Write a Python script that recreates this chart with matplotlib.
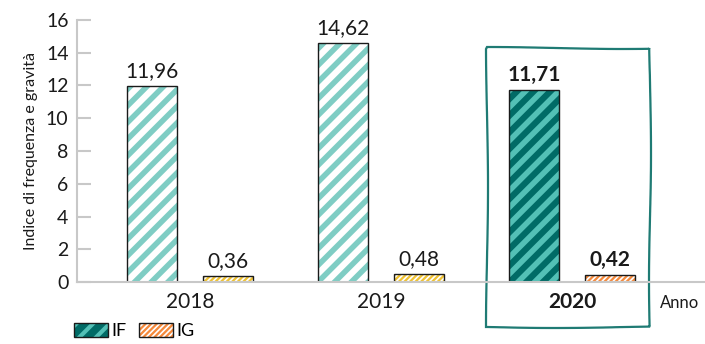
import matplotlib
matplotlib.use("Agg")
import matplotlib.pyplot as plt
from matplotlib.patches import Rectangle, Patch
from matplotlib.legend_handler import HandlerTuple

plt.rcParams['font.family'] = ['Lato', 'DejaVu Sans']

years = ["2018", "2019", "2020"]
if_values = [11.96, 14.62, 11.71]
ig_values = [0.36, 0.48, 0.42]
highlight = 2  # anno evidenziato

teal_light = "#7fcdc4"
teal_dark = "#006b66"
teal_stripe = "#53c0b6"
yellow = "#f0c232"
orange = "#f5893b"
grey = "#c8c8c8"
box_col = "#1f7b74"


def fmt(v):
    return ("%.2f" % v).replace(".", ",")


def hatched_bar(ax, x, h, w, face, stripe, hatch, hlw):
    with plt.rc_context({'hatch.linewidth': hlw}):
        b = ax.bar(x, h, w, color=face, edgecolor=stripe, linewidth=0, hatch=hatch)[0]
    try:
        b.set_hatch_linewidth(hlw)
    except AttributeError:
        pass
    ax.bar(x, h, w, fill=False, edgecolor="#1a1a1a", linewidth=1.0)
    return b


fig = plt.figure(figsize=(7.05, 3.44), dpi=100)
ax = fig.add_axes([0.109, 0.180, 0.891, 0.762])

w = 0.262
off = 0.199
for i in range(len(years)):
    bold = i == highlight
    if bold:
        hatched_bar(ax, i - off, if_values[i], w, teal_dark, teal_stripe, "//", 4.0)
        hatched_bar(ax, i + off, ig_values[i], w, orange, "white", "//////", 1.2)
    else:
        hatched_bar(ax, i - off, if_values[i], w, "white", teal_light, "//", 4.0)
        hatched_bar(ax, i + off, ig_values[i], w, yellow, "white", "//////", 1.2)
    fw = "bold" if bold else "normal"
    ax.text(i - off, if_values[i] + 0.3, fmt(if_values[i]), ha="center", va="bottom",
            fontsize=15, fontweight=fw, color="#1a1a1a")
    ax.text(i + off, ig_values[i] + 0.3, fmt(ig_values[i]), ha="center", va="bottom",
            fontsize=15, fontweight=fw, color="#1a1a1a")

ax.set_xlim(-0.592, 2.696)
ax.set_ylim(0, 16)
ax.set_yticks(range(0, 17, 2))
ax.set_xticks(range(len(years)))
ax.set_xticklabels(years)
for i, t in enumerate(ax.get_xticklabels()):
    if i == highlight:
        t.set_fontweight("bold")

for s in ["top", "right"]:
    ax.spines[s].set_visible(False)
ax.spines["left"].set_color(grey)
ax.spines["bottom"].set_color(grey)
ax.spines["left"].set_linewidth(1.5)
ax.spines["bottom"].set_linewidth(1.5)
ax.tick_params(axis="y", direction="in", length=10, width=1.5, color=grey,
               labelsize=14, pad=6, labelcolor="#1a1a1a")
ax.tick_params(axis="x", length=0, labelsize=15, pad=7, labelcolor="#1a1a1a")
ax.set_ylabel("Indice di frequenza e gravità", fontsize=11.5, color="#1a1a1a", labelpad=6)
ax.text(2.46, -1.3, "Anno", fontsize=12, ha="left", va="center", color="#1a1a1a")

# riquadro a mano intorno al 2020
box = Rectangle((highlight - 0.445, -2.75), 0.853, 17.04, fill=False,
                edgecolor=box_col, linewidth=1.6, clip_on=False)
box.set_sketch_params(scale=1.0, length=300, randomness=2)
ax.add_patch(box)

# legenda (due legende, per avere spessori di tratteggio diversi)
leg_kw = dict(handler_map={tuple: HandlerTuple(ndivide=1, pad=0)},
              loc="upper left", frameon=False, fontsize=13, handlelength=1.9,
              handleheight=0.85, handletextpad=0.15, borderaxespad=0, borderpad=0)
with plt.rc_context({'hatch.linewidth': 3.0}):
    if_h = Patch(facecolor=teal_dark, edgecolor=teal_stripe, linewidth=0, hatch="//")
    if_o = Patch(fill=False, edgecolor="#1a1a1a", linewidth=1.0)
    leg1 = fig.legend([(if_h, if_o)], ["IF"], bbox_to_anchor=(0.105, 0.062), **leg_kw)
with plt.rc_context({'hatch.linewidth': 1.2}):
    ig_h = Patch(facecolor=orange, edgecolor="white", linewidth=0, hatch="//////")
    ig_o = Patch(fill=False, edgecolor="#1a1a1a", linewidth=1.0)
    leg2 = fig.legend([(ig_h, ig_o)], ["IG"], bbox_to_anchor=(0.197, 0.062), **leg_kw)

fig.savefig("out.png", dpi=100)
